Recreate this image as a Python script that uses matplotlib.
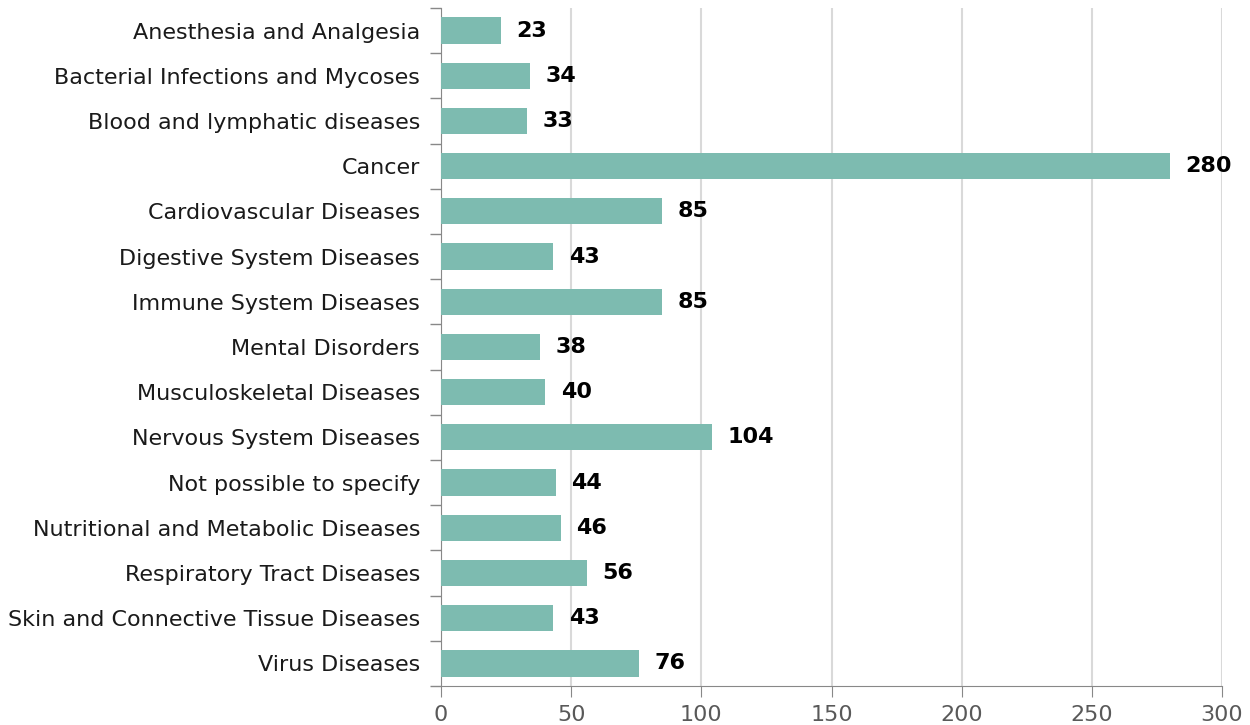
import matplotlib.pyplot as plt
import numpy as np

categories = [
    "Anesthesia and Analgesia",
    "Bacterial Infections and Mycoses",
    "Blood and lymphatic diseases",
    "Cancer",
    "Cardiovascular Diseases",
    "Digestive System Diseases",
    "Immune System Diseases",
    "Mental Disorders",
    "Musculoskeletal Diseases",
    "Nervous System Diseases",
    "Not possible to specify",
    "Nutritional and Metabolic Diseases",
    "Respiratory Tract Diseases",
    "Skin and Connective Tissue Diseases",
    "Virus Diseases",
]
values = [23, 34, 33, 280, 85, 43, 85, 38, 40, 104, 44, 46, 56, 43, 76]
x_ticks = [0, 50, 100, 150, 200, 250, 300]

fig = plt.figure(figsize=(12.5, 7.25), dpi=100)
ax = fig.add_axes([0.3528, 0.0538, 0.6248, 0.9352])

y = np.arange(len(categories))
ax.barh(y, values, height=0.58, color="#7dbbb0", zorder=3)

for yi, v in zip(y, values):
    ax.text(v + 6, yi, str(v), va="center", ha="left",
            fontsize=16, fontweight="bold", color="black", zorder=4)

ax.set_ylim(len(categories) - 0.5, -0.5)
ax.set_xlim(0, 300)
ax.set_yticks(y)
ax.set_yticklabels(categories, fontsize=16, color="#1a1a1a")
ax.set_yticks(np.arange(-0.5, len(categories) + 0.5, 1), minor=True)
ax.tick_params(axis="y", which="major", length=0, pad=15)
ax.tick_params(axis="y", which="minor", length=8, color="#888888", width=1)

ax.set_xticks(x_ticks)
ax.tick_params(axis="x", length=8, color="#888888", labelsize=16,
               labelcolor="#595959", pad=6)

ax.grid(axis="x", color="#d9d9d9", linewidth=1.5, zorder=0)
for side in ["top", "right"]:
    ax.spines[side].set_visible(False)
for side in ["left", "bottom"]:
    ax.spines[side].set_color("#888888")

fig.savefig("out.png", dpi=100)
